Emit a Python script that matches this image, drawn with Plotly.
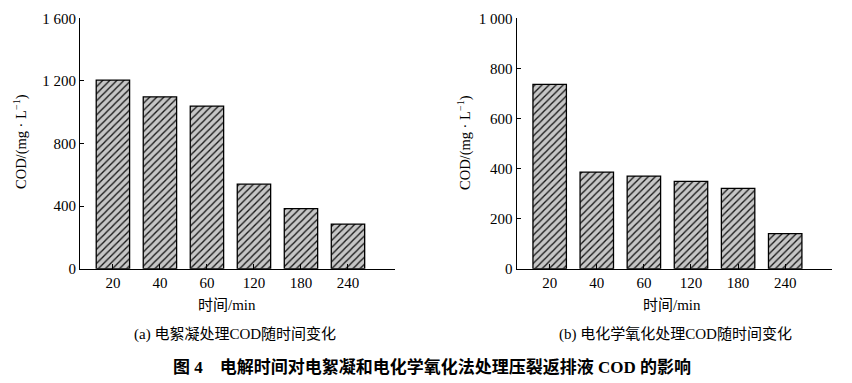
import plotly.graph_objects as go

categories = ["20", "40", "60", "120", "180", "240"]
cod_electrocoag = [1205, 1098, 1039, 540, 384, 285]
cod_electrochem = [736, 386, 370, 349, 321, 140]
yticks_a = [0, 400, 800, 1200, 1600]
yticklabels_a = ["0", "400", "800", "1 200", "1 600"]
yticks_b = [0, 200, 400, 600, 800, 1000]
yticklabels_b = ["0", "200", "400", "600", "800", "1 000"]
xlabel = "时间/min"
ylabel = "COD/(mg · L<sup>−1</sup>)"
caption_a = "(a) 电絮凝处理COD随时间变化"
caption_b = "(b) 电化学氧化处理COD随时间变化"
title = "<b>图 4　电解时间对电絮凝和电化学氧化法处理压裂返排液 COD 的影响</b>"

# The page body has an 8px default margin: the figure is drawn at (8, 8).
OFF = 8
W, H = 852 - OFF, 383 - OFF
SERIF = "Liberation Serif, Times New Roman, Noto Sans CJK SC, serif"
CJK = "Liberation Serif, Noto Sans CJK SC, serif"

def px(x):
    return (x - OFF) / W

def py(y):
    return (H - (y - OFF)) / H

xpos = list(range(len(categories)))

bar_style = dict(
    color="#c6c6c6",
    line=dict(color="black", width=1.3),
    pattern=dict(shape="/", fgcolor="#151515", bgcolor="#c6c6c6", size=5,
                 solidity=0.26, fillmode="replace"),
)

fig = go.Figure()
fig.add_trace(go.Bar(x=xpos, y=cod_electrocoag, width=0.71, marker=bar_style,
                     xaxis="x", yaxis="y", showlegend=False, hoverinfo="skip"))
fig.add_trace(go.Bar(x=xpos, y=cod_electrochem, width=0.71, marker=bar_style,
                     xaxis="x2", yaxis="y2", showlegend=False, hoverinfo="skip"))

xcommon = dict(range=[-0.7, 6.0], tickmode="array", tickvals=xpos, ticktext=categories,
               showline=True, linecolor="black", linewidth=1.2, ticks="inside",
               ticklen=3, tickcolor="black", tickwidth=1, showgrid=False, zeroline=False,
               minor=dict(ticks="inside", tick0=0, dtick=1, ticklen=5, tickcolor="black",
                          tickwidth=1, showgrid=False),
               automargin=False, fixedrange=True,
               tickfont=dict(family=SERIF, size=15, color="black"))
ycommon = dict(showline=True, linecolor="black", linewidth=1.2, ticks="inside",
               ticklen=4, tickcolor="black", tickwidth=1, showgrid=False, zeroline=False,
               automargin=False, fixedrange=True,
               tickfont=dict(family=SERIF, size=15, color="black"))

y0, y1 = py(268.7), py(18.3)
fig.update_layout(
    template="none",
    width=W, height=H, autosize=False, margin=dict(l=0, r=0, t=0, b=0, pad=0),
    paper_bgcolor="white", plot_bgcolor="white", showlegend=False,
    xaxis=dict(domain=[px(80), px(395)], anchor="y", **xcommon),
    yaxis=dict(domain=[y0, y1], anchor="x", range=[0, 1600], tickvals=yticks_a,
               ticktext=yticklabels_a, **ycommon),
    xaxis2=dict(domain=[px(516.7), px(832.3)], anchor="y2", **xcommon),
    yaxis2=dict(domain=[y0, y1], anchor="x2", range=[0, 1000], tickvals=yticks_b,
                ticktext=yticklabels_b, **ycommon),
)

def note(x, y, text, size, family=CJK, angle=0):
    return dict(x=px(x), y=py(y), text=text, showarrow=False, xref="paper", yref="paper",
                xanchor="center", yanchor="middle", textangle=angle,
                font=dict(family=family, size=size, color="black"))

ann = [
    note(227, 305, xlabel, 15),
    note(672, 305, xlabel, 15),
    note(21, 142, ylabel, 14.5, SERIF, -90),
    note(465, 142, ylabel, 14.5, SERIF, -90),
    note(235, 334, caption_a, 15),
    note(675, 334, caption_b, 15),
    note(432, 367, title, 17),
]
fig.update_layout(annotations=ann)

fig.write_html("out.html")
